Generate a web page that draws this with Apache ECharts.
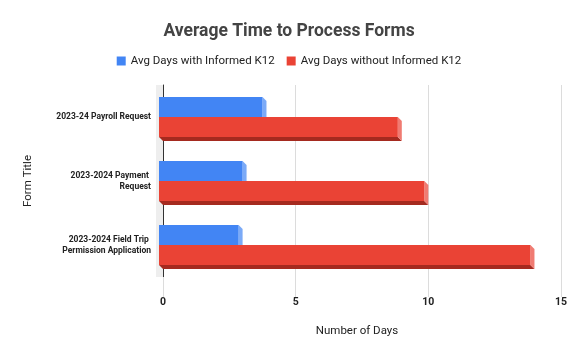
<!DOCTYPE html>
<html>
<head>
<meta charset="utf-8">
<script src="https://cdn.jsdelivr.net/npm/echarts@6/dist/echarts.min.js"></script>
<style>html,body{margin:0;padding:0;background:#fff;}#chart{width:578px;height:357px;}</style>
</head>
<body>
<div id="chart"></div>
<script>
const categories = ['2023-24 Payroll Request', '2023-2024 Payment Request', '2023-2024 Field Trip Permission Application'];
const seriesNames = ['Avg Days with Informed K12', 'Avg Days without Informed K12'];
const withK12 = [3.9, 3.15, 3.0];
const withoutK12 = [9, 10, 14];
const xMin = 0, xMax = 15, xInterval = 5;

const palette = [
  {main: '#4285f4', side: '#7baaf7', bottom: '#2a56a8'},
  {main: '#ea4335', side: '#f07b72', bottom: '#a52a1f'}
];

function renderItem(params, api) {
  const s = params.seriesIndex;
  const cat = api.value(1);
  const v = api.value(0);
  const p0 = api.coord([0, cat]);
  const p1 = api.coord([v, cat]);
  const band = api.size([0, 1])[1];
  const h = band * 0.3125;
  const d = band / 16;
  const yTop = p0[1] - h + s * h;
  const xL = p0[0] - d, xR = p1[0] - d;
  const c = palette[s];
  const children = [];
  if (s === 0) {
    children.push({type: 'rect', shape: {x: p0[0] - 7, y: p0[1] - band / 2, width: 7, height: band},
      style: {fill: '#eeeeee'}, silent: true});
  }
  children.push({type: 'polygon', shape: {points: [[xL, yTop + h], [xR, yTop + h], [xR + d, yTop + h + d], [xL + d, yTop + h + d]]},
    style: {fill: c.bottom}});
  children.push({type: 'polygon', shape: {points: [[xR, yTop], [xR + d, yTop + d], [xR + d, yTop + h + d], [xR, yTop + h]]},
    style: {fill: c.side}});
  children.push({type: 'rect', shape: {x: xL, y: yTop, width: xR - xL, height: h}, style: {fill: c.main}});
  return {type: 'group', children: children};
}

const chart = echarts.init(document.getElementById('chart'));
chart.setOption({
  animation: false,
  backgroundColor: '#fff',
  textStyle: {fontFamily: 'Roboto'},
  title: {
    text: 'Average Time to Process Forms', left: 'center', top: 18,
    textStyle: {fontSize: 17.5, fontWeight: 'bold', color: '#444', fontFamily: 'Roboto'}
  },
  legend: {
    top: 50, left: 'center', itemWidth: 9, itemHeight: 9, itemGap: 12, icon: 'rect',
    textStyle: {fontSize: 11.5, color: '#222', fontFamily: 'Roboto'},
    data: seriesNames
  },
  grid: {left: 163, right: 17, top: 85, bottom: 80, containLabel: false},
  xAxis: {
    type: 'value', min: xMin, max: xMax, interval: xInterval,
    name: 'Number of Days', nameLocation: 'middle', nameGap: 48,
    nameTextStyle: {fontSize: 11.5, color: '#222', fontFamily: 'Roboto', padding: [0, 10, 0, 0]},
    axisLine: {show: false},
    axisTick: {show: true, length: 20, lineStyle: {color: '#dcdcdc'}},
    splitLine: {show: true, lineStyle: {color: '#dcdcdc'}},
    axisLabel: {margin: 20, fontSize: 10.5, fontWeight: 'bold', color: '#222', fontFamily: 'Roboto'}
  },
  yAxis: {
    type: 'category', data: categories, inverse: true,
    name: 'Form Title', nameLocation: 'middle', nameGap: 129, nameRotate: 90,
    nameTextStyle: {fontSize: 11.5, color: '#222', fontFamily: 'Roboto'},
    axisLine: {show: true, lineStyle: {color: '#333'}},
    axisTick: {show: false},
    splitLine: {show: false},
    axisLabel: {margin: 12, fontSize: 8.5, fontWeight: 'bold', color: '#222', fontFamily: 'Roboto',
      width: 105, overflow: 'break', lineHeight: 11, align: 'right'}
  },
  series: [
    {name: seriesNames[0], type: 'custom', renderItem: renderItem, itemStyle: {color: palette[0].main},
      encode: {x: 0, y: 1}, data: withK12.map((v, i) => [v, i])},
    {name: seriesNames[1], type: 'custom', renderItem: renderItem, itemStyle: {color: palette[1].main},
      encode: {x: 0, y: 1}, data: withoutK12.map((v, i) => [v, i])}
  ]
});
</script>
</body>
</html>
